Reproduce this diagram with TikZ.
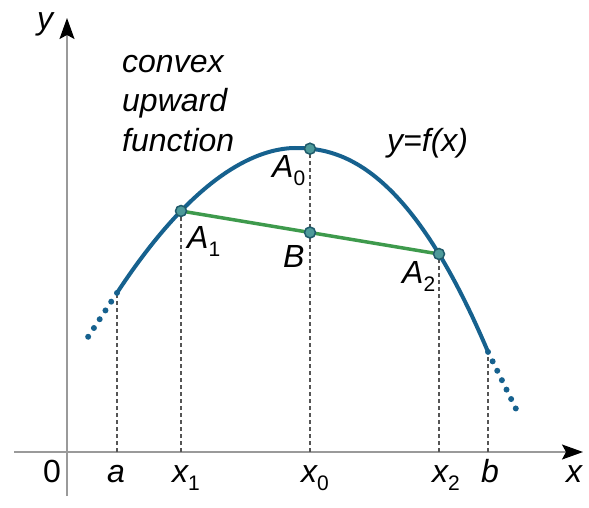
\documentclass[tikz,border=0pt]{standalone}
\usepackage{fontspec}
\setmainfont{Liberation Sans}
\usetikzlibrary{arrows.meta}
\definecolor{curveblue}{HTML}{16618E}
\definecolor{chordgreen}{HTML}{3E9A4C}
\definecolor{ptfill}{HTML}{4D9A9A}
\definecolor{ptdraw}{HTML}{1F5B6B}
\definecolor{axisgray}{HTML}{9A9A9A}
\definecolor{dashgray}{HTML}{555555}
\newcommand\lsub[1]{\raisebox{-8pt}{\fontsize{21}{21}\selectfont\upshape #1}}
\begin{document}
\begin{tikzpicture}[x=1pt,y=-1pt,
  lbl/.style={font=\fontsize{32}{39}\selectfont\itshape, inner sep=0pt},
  numlbl/.style={font=\fontsize{32}{39}\selectfont, inner sep=0pt},
  axisline/.style={draw=axisgray, line width=1.5pt},
  axtip/.style={-{Stealth[length=21pt,width=15pt,inset=4pt,color=black]}},
  guide/.style={draw=dashgray, line width=1.4pt, dash pattern=on 4pt off 3pt},
  curveline/.style={draw=curveblue, line width=4pt, line cap=round},
  dotline/.style={draw=curveblue, line width=6pt, line cap=round, dash pattern=on 0pt off 10.5pt},
  chordline/.style={draw=chordgreen, line width=3.5pt},
  ptmark/.style={circle, fill=ptfill, draw=ptdraw, line width=1.5pt, minimum size=11pt, inner sep=0pt}
]
\useasboundingbox (0,0) rectangle (589,508);

% axes
\coordinate (xs) at (14,452);
\coordinate (xe) at (583,452);
\coordinate (ys) at (67,496);
\coordinate (ye) at (67,18);
\draw[axisline, axtip] (xs) -- (xe);
\draw[axisline, axtip] (ys) -- (ye);

% key coordinates
\coordinate (ta) at (117,452);
\coordinate (t1) at (181,452);
\coordinate (t0) at (310,452);
\coordinate (t2) at (439,452);
\coordinate (tb) at (488,452);
\coordinate (Ca) at (117,292.9);
\coordinate (Cb) at (488,351.9);
\coordinate (Da) at (88,337);
\coordinate (Db) at (518,413);
\coordinate (A1) at (181,211);
\coordinate (A0) at (310,148.7);
\coordinate (A2) at (439,254);
\coordinate (B)  at (310,232.5);

% guide lines
\draw[guide] (ta) -- (Ca);
\draw[guide] (t1) -- (A1);
\draw[guide] (t0) -- (A0);
\draw[guide] (t2) -- (A2);
\draw[guide] (tb) -- (Cb);

% curve
\draw[curveline] plot[domain=117:295, samples=60] (\x,{148+49.3*pow((295-\x)/100,1.87)})
  -- plot[domain=295:488, samples=60] (\x,{148+46.9*pow(max(\x-295,0.001)/100,2.235)});
\draw[dotline] (Ca) -- (Da);
\draw[dotline] (Cb) -- (Db);

% chord
\draw[chordline] (A1) -- (A2);

% points
\node[ptmark] (P1) at (A1) {};
\node[ptmark] (P0) at (A0) {};
\node[ptmark] (P2) at (A2) {};
\node[ptmark] (PB) at (B) {};

% labels
\node[lbl, anchor=base] (ly) at (45,30) {y};
\node[lbl, anchor=base] (lx) at (574,482) {x};
\node[numlbl, anchor=base] (l0) at (52,482) {0};
\node[lbl, anchor=base] (la) at (116,482) {a};
\node[lbl, anchor=base west] (lx1) at (172,482) {x\lsub{1}};
\node[lbl, anchor=base west] (lx0) at (301,482) {x\lsub{0}};
\node[lbl, anchor=base west] (lx2) at (432,482) {x\lsub{2}};
\node[lbl, anchor=base] (lb) at (490,482) {b};

\node[lbl, anchor=base west] (tx1) at (122,73) {convex};
\node[lbl, anchor=base west] (tx2) at (122,112) {upward};
\node[lbl, anchor=base west] (tx3) at (122,152) {function};

\node[lbl, anchor=base west] (lA0) at (272,177) {A\lsub{0}};
\node[lbl, anchor=base west] (lA1) at (187,248) {A\lsub{1}};
\node[lbl, anchor=base west] (lB) at (283,267) {B};
\node[lbl, anchor=base west] (lA2) at (402,283) {A\lsub{2}};
\node[lbl, anchor=base west] (lf) at (387,152) {y=f(x)};
\end{tikzpicture}
\end{document}
